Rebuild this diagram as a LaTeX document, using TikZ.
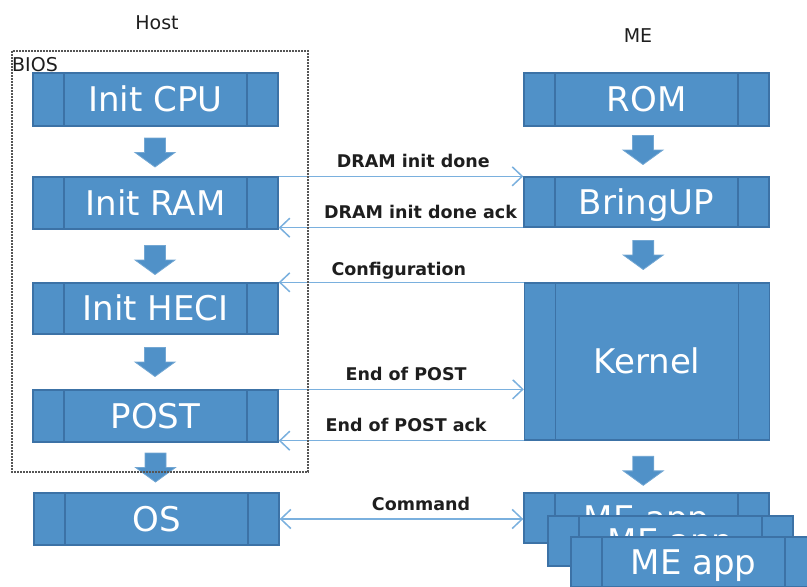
\documentclass[tikz,border=0pt]{standalone}
\usepackage{fontspec}
\setmainfont{DejaVu Sans}
\usetikzlibrary{arrows.meta,calc}

\definecolor{boxfill}{RGB}{80,145,200}
\definecolor{boxedge}{RGB}{60,114,166}
\definecolor{msgline}{RGB}{122,176,222}
\definecolor{labeltext}{RGB}{30,30,30}
\definecolor{framegray}{RGB}{85,85,85}

\tikzset{
  stage/.style={rectangle, draw=boxedge, line width=1.4pt, fill=boxfill,
    text=white, inner sep=0pt, minimum width=245pt, minimum height=52pt,
    text height=24.5pt, text depth=0pt,
    font=\fontsize{34}{40}\selectfont,
    path picture={
      \draw[boxedge, line width=1.4pt]
        ([xshift=31pt]path picture bounding box.north west) --
        ([xshift=31pt]path picture bounding box.south west)
        ([xshift=-31pt]path picture bounding box.north east) --
        ([xshift=-31pt]path picture bounding box.south east);}},
  msg/.style={draw=msgline, line width=1.5pt,
    -{Straight Barb[length=10pt,width=19pt]}},
  msgboth/.style={draw=msgline, line width=1.5pt,
    {Straight Barb[length=10pt,width=19pt]}-{Straight Barb[length=10pt,width=19pt]}},
  msglabel/.style={text=labeltext, anchor=base, yshift=9pt, inner sep=0pt,
    font=\bfseries\fontsize{17.5}{20}\selectfont},
  heading/.style={text=labeltext, anchor=base, inner sep=0pt,
    font=\fontsize{19}{22}\selectfont},
  pics/stepdown/.style={code={
    \filldraw[fill=boxfill, draw=boxfill!80!white, line width=0.8pt]
      (-10.5,-14.5) -- (10.5,-14.5) -- (10.5,0) -- (20,0) -- (0,14.5)
      -- (-20,0) -- (-10.5,0) -- cycle;}}
}

\begin{document}
\begin{tikzpicture}[x=1pt, y=-1pt]
  \clip (0,0) rectangle (807,587);

  % column headings
  \node[heading] (host) at (157,29) {Host};
  \node[heading] (me) at (638,42) {ME};
  \node[heading, anchor=base west] (bios) at (12,71) {BIOS};

  % host boot stages
  \node[stage, minimum height=53pt] (cpu) at (155.5,99.5) {Init CPU};
  \node[stage] (ram) at (155.5,203) {Init RAM};
  \node[stage, minimum height=51pt] (heci) at (155.5,308.5) {Init HECI};
  \node[stage] (post) at (155.5,416) {POST};
  \node[stage] (os) at (156.5,519) {OS};

  % ME boot stages
  \node[stage, minimum height=53pt] (rom) at (646.5,99.5) {ROM};
  \node[stage, minimum height=50pt] (bringup) at (646.5,202) {BringUP};
  \node[stage, minimum height=157pt] (kernel) at (647,361.5) {Kernel};

  % flow between stages
  \pic at ($(cpu.south)!0.5!(ram.north)+(-0.5,1)$) {stepdown};
  \pic at ($(ram.south)!0.5!(heci.north)+(-0.5,4)$) {stepdown};
  \pic at ($(heci.south)!0.5!(post.north)+(-0.5,0)$) {stepdown};
  \pic at ($(post.south)!0.5!(os.north)+(-0.5,0)$) {stepdown};
  \pic at ($(rom.south)!0.5!(bringup.north)+(-3.5,-1.5)$) {stepdown};
  \pic at ($(bringup.south)!0.5!(kernel.north)+(-3.5,0)$) {stepdown};
  \pic at ($(kernel.south)!0.5!(646.5,493)+(-3.5,4)$) {stepdown};

  % messages between host and ME
  \draw[msg] (ram.north east) -- (ram.north east -| bringup.west)
    node[msglabel, pos=0.55] {DRAM init done};
  \draw[msg] (bringup.south west) -- (bringup.south west -| ram.east)
    node[msglabel, pos=0.42] {DRAM init done ack};
  \draw[msg] (kernel.north west) -- (kernel.north west -| heci.east)
    node[msglabel, pos=0.51, yshift=-2pt] {Configuration};
  \draw[msg] (post.north east) -- (post.north east -| kernel.west)
    node[msglabel, pos=0.52] {End of POST};
  \draw[msg] (kernel.south west) -- (kernel.south west -| post.east)
    node[msglabel, pos=0.48] {End of POST ack};

  % BIOS frame
  \draw[framegray, line width=2pt, densely dotted] (12,51) rectangle (308,472);

  % stacked ME applications
  \node[stage, minimum height=50pt] (app1) at (646.5,518) {ME app};
  \node[stage, minimum height=50pt] (app2) at (670.5,541) {ME app};
  \node[stage, minimum height=50pt] (app3) at (693.5,562) {ME app};

  \draw[msgboth] (os.east) -- (os.east -| app1.west)
    node[msglabel, pos=0.58] {Command};
\end{tikzpicture}
\end{document}
